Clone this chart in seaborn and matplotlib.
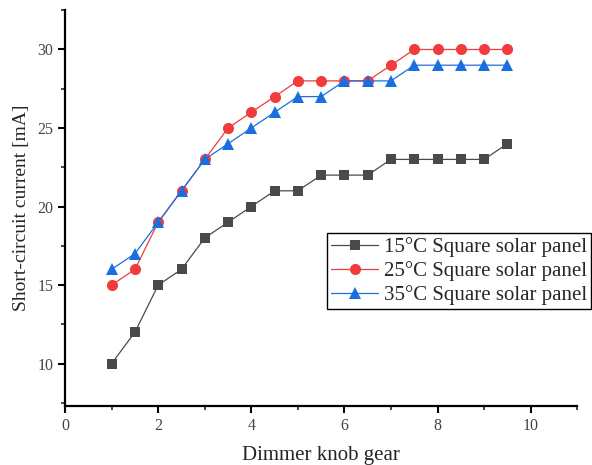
import matplotlib
matplotlib.use("Agg")
import matplotlib.pyplot as plt
import seaborn as sns
import pandas as pd
from matplotlib.ticker import MultipleLocator

# dimmer knob gears
gear = [1, 1.5, 2, 2.5, 3, 3.5, 4, 4.5, 5, 5.5, 6, 6.5, 7, 7.5, 8, 8.5, 9, 9.5]
i15 = [10, 12, 15, 16, 18, 19, 20, 21, 21, 22, 22, 22, 23, 23, 23, 23, 23, 24]
i25 = [15, 16, 19, 21, 23, 25, 26, 27, 28, 28, 28, 28, 29, 30, 30, 30, 30, 30]
i35 = [16, 17, 19, 21, 23, 24, 25, 26, 27, 27, 28, 28, 28, 29, 29, 29, 29, 29]
labels = ["15°C Square solar panel", "25°C Square solar panel", "35°C Square solar panel"]

sns.set_style("ticks")
plt.rcParams["font.family"] = ["Liberation Serif", "DejaVu Serif"]

fig = plt.figure(figsize=(5.92, 4.65), dpi=100)
ax = fig.add_axes([0.11, 0.127, 0.865, 0.851])

styles = [("#4a4a4a", "s", 7), ("#f03c3c", "o", 8), ("#1a6fe0", "^", 8.5)]
for vals, lab, (col, mk, ms) in zip([i15, i25, i35], labels, styles):
    df = pd.DataFrame({"x": gear, "y": vals})
    sns.lineplot(data=df, x="x", y="y", ax=ax, color=col, marker=mk,
                 markersize=ms, markeredgewidth=0, linewidth=0.9, label=lab)

ax.set_xlim(0, 11)
ax.set_ylim(7.3, 32.5)
ax.xaxis.set_major_locator(MultipleLocator(2))
ax.xaxis.set_minor_locator(MultipleLocator(1))
ax.yaxis.set_major_locator(MultipleLocator(5))
ax.yaxis.set_minor_locator(MultipleLocator(2.5))
ax.tick_params(which="major", direction="out", length=5, width=1.5, labelsize=11.5, colors="black")
ax.tick_params(which="minor", direction="out", length=3, width=1.2)
for s in ["left", "bottom"]:
    ax.spines[s].set_linewidth(1.6)
    ax.spines[s].set_color("black")
for s in ["top", "right"]:
    ax.spines[s].set_visible(False)
for t in ax.get_xticklabels() + ax.get_yticklabels():
    t.set_color("#444444")

ax.set_xlabel("Dimmer knob gear", fontsize=15, labelpad=9)
ax.set_ylabel("Short-circuit current [mA]", fontsize=14, labelpad=5)

leg = ax.legend(loc="upper left", bbox_to_anchor=(0.512, 0.437), fontsize=15,
                frameon=True, fancybox=False, borderpad=0.2, labelspacing=0.2,
                handlelength=2.25, handletextpad=0.25, borderaxespad=0)
leg.get_frame().set_edgecolor("black")
leg.get_frame().set_linewidth(1.0)
leg.get_frame().set_alpha(1)

fig.savefig("out.png", dpi=100)
